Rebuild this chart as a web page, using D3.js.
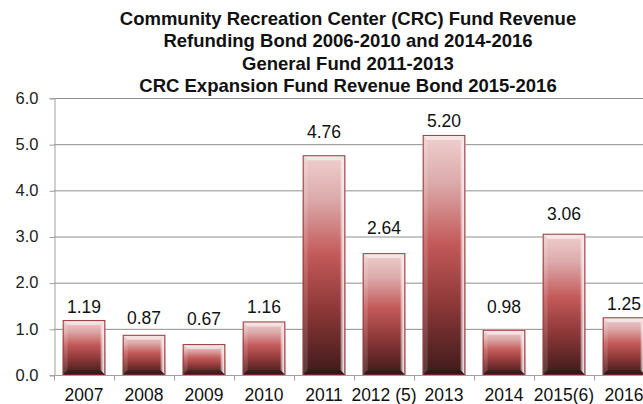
<!DOCTYPE html>
<html>
<head>
<meta charset="utf-8">
<script src="https://cdn.jsdelivr.net/npm/d3@7"></script>
<style>
  html, body { margin: 0; padding: 0; background: #fff; }
  svg { display: block; font-family: "Liberation Sans", Arial, sans-serif; }
</style>
</head>
<body>
<svg id="chart" width="643" height="404"></svg>
<script>
// Revenue by year, millions
const categories = ["2007", "2008", "2009", "2010", "2011", "2012 (5)", "2013", "2014", "2015(6)", "2016"];
const values = [1.19, 0.87, 0.67, 1.16, 4.76, 2.64, 5.20, 0.98, 3.06, 1.25];
const yTickValues = [0, 1, 2, 3, 4, 5, 6];
const titleLines = [
  "Community Recreation Center (CRC) Fund Revenue",
  "Refunding Bond 2006-2010 and 2014-2016",
  "General Fund 2011-2013",
  "CRC Expansion Fund Revenue Bond 2015-2016"
];

// Hand-placed gap (px) between each bar top and its value label
const labelGap = [7, 11, 19, 8, 17, 19, 8, 17, 14, 7];

const svg = d3.select("#chart");
const W = 643, H = 404;
const plot = { left: 54, top: 98, width: 600, height: 277 };

const x = d3.scaleBand()
  .domain(categories)
  .range([plot.left, plot.left + plot.width])
  .paddingInner(0.29)
  .paddingOuter(0.145);

const y = d3.scaleLinear()
  .domain([0, 6])
  .range([plot.top + plot.height, plot.top]);

// Gradients
const defs = svg.append("defs");
const face = defs.append("linearGradient")
  .attr("id", "barFace").attr("x1", 0).attr("y1", 0).attr("x2", 0).attr("y2", 1);
face.append("stop").attr("offset", "0%").attr("stop-color", "#efcfcf");
face.append("stop").attr("offset", "20%").attr("stop-color", "#dcaaaa");
face.append("stop").attr("offset", "45%").attr("stop-color", "#c45a5a");
face.append("stop").attr("offset", "70%").attr("stop-color", "#8e3838");
face.append("stop").attr("offset", "100%").attr("stop-color", "#3e1a1a");

const rightEdge = defs.append("linearGradient")
  .attr("id", "rightEdge").attr("x1", 0).attr("y1", 0).attr("x2", 1).attr("y2", 0);
rightEdge.append("stop").attr("offset", "0%").attr("stop-color", "#fff").attr("stop-opacity", 0.2);
rightEdge.append("stop").attr("offset", "60%").attr("stop-color", "#ffeef3").attr("stop-opacity", 0.9);
rightEdge.append("stop").attr("offset", "100%").attr("stop-color", "#f2c4d2").attr("stop-opacity", 0.95);

// Gridlines
svg.append("g")
  .selectAll("line")
  .data(yTickValues.filter(d => d > 0))
  .join("line")
  .attr("x1", plot.left).attr("x2", W)
  .attr("y1", d => y(d) + 0.5).attr("y2", d => y(d) + 0.5)
  .attr("stroke", "#8e8e8e").attr("stroke-width", 1);

// Y axis
const yAxis = svg.append("g")
  .attr("transform", `translate(${plot.left + 0.5},0)`)
  .call(d3.axisLeft(y).tickValues(yTickValues).tickFormat(d3.format(".1f")).tickSize(5).tickPadding(11));
yAxis.select(".domain").attr("stroke", "#a0a0a0");
yAxis.selectAll(".tick line").attr("stroke", "#a0a0a0").attr("transform", "translate(0,0.5)");
yAxis.selectAll(".tick text")
  .attr("font-size", 16.5).attr("fill", "#222")
  .attr("font-family", "Liberation Sans, Arial, sans-serif");

// Bars
const bars = svg.append("g").selectAll("g.bar")
  .data(categories.map((c, i) => ({ c, v: values[i], gap: labelGap[i] })))
  .join("g").attr("class", "bar");

const bev = 5;
bars.each(function (d) {
  const g = d3.select(this);
  const x0 = x(d.c), x1 = x0 + x.bandwidth();
  const y0 = y(d.v), y1 = y(0);
  g.append("rect")
    .attr("x", x0).attr("y", y0).attr("width", x1 - x0).attr("height", y1 - y0)
    .attr("fill", "url(#barFace)");
  // top bevel
  g.append("polygon")
    .attr("points", [[x0, y0], [x1, y0], [x1 - bev, y0 + bev], [x0 + bev, y0 + bev]].join(" "))
    .attr("fill", "#fff").attr("fill-opacity", 0.5);
  // left bevel
  g.append("polygon")
    .attr("points", [[x0, y0], [x0 + bev, y0 + bev], [x0 + bev, y1 - bev], [x0, y1]].join(" "))
    .attr("fill", "#fff").attr("fill-opacity", 0.14);
  // bottom bevel
  g.append("polygon")
    .attr("points", [[x0, y1], [x0 + bev, y1 - bev], [x1 - bev, y1 - bev], [x1, y1]].join(" "))
    .attr("fill", "#000").attr("fill-opacity", 0.15);
  // right bevel
  g.append("polygon")
    .attr("points", [[x1, y0], [x1, y1], [x1 - bev, y1 - bev], [x1 - bev, y0 + bev]].join(" "))
    .attr("fill", "url(#rightEdge)");
  // outline
  g.append("rect")
    .attr("x", x0 + 0.5).attr("y", y0 + 0.5).attr("width", x1 - x0 - 1).attr("height", y1 - y0 - 0.5)
    .attr("fill", "none").attr("stroke", "#963c3c").attr("stroke-width", 1);
  // value label
  g.append("text")
    .attr("x", (x0 + x1) / 2).attr("y", y0 - d.gap)
    .attr("text-anchor", "middle").attr("font-size", 17.5).attr("fill", "#111")
    .text(d3.format(".2f")(d.v));
});

// X axis
const xAxis = svg.append("g")
  .attr("transform", `translate(0,${plot.top + plot.height + 0.5})`);
xAxis.append("line")
  .attr("x1", plot.left).attr("x2", W).attr("y1", 0).attr("y2", 0)
  .attr("stroke", "#a0a0a0");
const step = x.step();
const boundaries = d3.range(categories.length + 1).map(i => plot.left + i * step);
xAxis.selectAll("line.tick")
  .data(boundaries)
  .join("line").attr("class", "tick")
  .attr("x1", d => d + 0.5).attr("x2", d => d + 0.5).attr("y1", 0).attr("y2", 5)
  .attr("stroke", "#a0a0a0");
xAxis.selectAll("text")
  .data(categories)
  .join("text")
  .attr("x", d => x(d) + x.bandwidth() / 2)
  .attr("y", 25)
  .attr("text-anchor", "middle").attr("font-size", 17.5).attr("fill", "#111")
  .text(d => d);

// Title
svg.append("g").selectAll("text")
  .data(titleLines)
  .join("text")
  .attr("x", 348)
  .attr("y", (d, i) => 25 + i * 22.3)
  .attr("text-anchor", "middle")
  .attr("font-size", 18.5).attr("font-weight", "bold").attr("fill", "#111")
  .text(d => d);
</script>
</body>
</html>
